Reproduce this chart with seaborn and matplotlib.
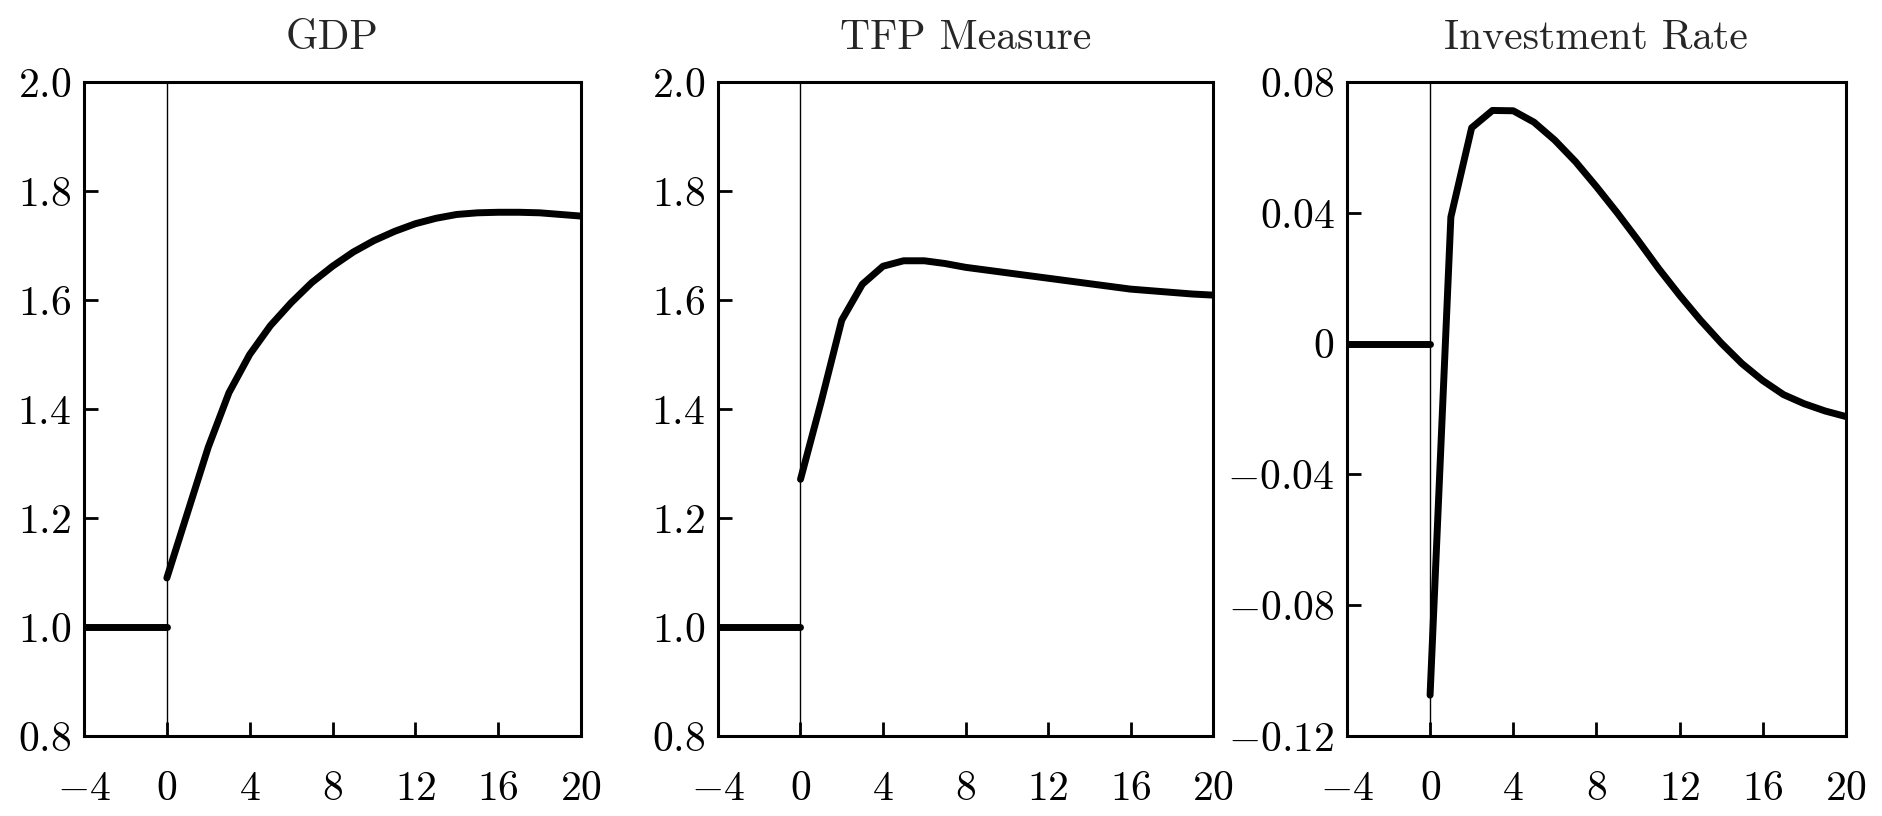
import numpy as np
import pandas as pd
import matplotlib
matplotlib.use("Agg")
import matplotlib.pyplot as plt
import seaborn as sns

sns.set_theme(style="white")
plt.rcParams['font.family'] = ['cmr10', 'DejaVu Serif']
plt.rcParams['mathtext.fontset'] = 'cm'
plt.rcParams['axes.unicode_minus'] = True

# horizon (quarters)
pre_x = [-4, -3, -2, -1, 0]
post_x = list(range(0, 21))

# GDP
gdp_pre = [1.0, 1.0, 1.0, 1.0, 1.0]
gdp_post = [1.09, 1.21, 1.33, 1.43, 1.50, 1.553, 1.595, 1.632, 1.662, 1.688,
            1.709, 1.726, 1.740, 1.750, 1.757, 1.760, 1.761, 1.761, 1.760, 1.757, 1.754]

# TFP measure
tfp_pre = [1.0, 1.0, 1.0, 1.0, 1.0]
tfp_post = [1.271, 1.413, 1.563, 1.629, 1.662, 1.672, 1.672, 1.667, 1.660, 1.655,
            1.650, 1.645, 1.640, 1.635, 1.630, 1.625, 1.620, 1.617, 1.614, 1.611, 1.609]

# Investment rate
inv_pre = [0.0, 0.0, 0.0, 0.0, 0.0]
inv_post = [-0.1075, 0.0387, 0.066, 0.0713, 0.0712, 0.0677, 0.0622, 0.0556, 0.048, 0.040,
            0.0316, 0.0229, 0.0148, 0.0072, 0.0002, -0.0061, -0.0113, -0.0156, -0.0184,
            -0.0206, -0.0223]

titles = ["GDP", "TFP Measure", "Investment Rate"]
xticks = [-4, 0, 4, 8, 12, 16, 20]
xtick_labels = [r"$-4$", "$0$", "$4$", "$8$", "$12$", "$16$", "$20$"]
yticks_level = [0.8, 1.0, 1.2, 1.4, 1.6, 1.8, 2.0]
ylabels_level = ["$0.8$", "$1.0$", "$1.2$", "$1.4$", "$1.6$", "$1.8$", "$2.0$"]
yticks_inv = [-0.12, -0.08, -0.04, 0.0, 0.04, 0.08]
ylabels_inv = [r"$-0.12$", r"$-0.08$", r"$-0.04$", "$0$", "$0.04$", "$0.08$"]

panels = [
    (gdp_pre, gdp_post, yticks_level, ylabels_level, (0.8, 2.0)),
    (tfp_pre, tfp_post, yticks_level, ylabels_level, (0.8, 2.0)),
    (inv_pre, inv_post, yticks_inv, ylabels_inv, (-0.12, 0.08)),
]

fig = plt.figure(figsize=(18.83, 8.16), dpi=100)
lefts = [0.0446, 0.3813, 0.7153]
widths = [0.264, 0.2629, 0.265]
bottom, height = 0.098, 0.8015

for i, (pre, post, yt, yl, ylim) in enumerate(panels):
    ax = fig.add_axes([lefts[i], bottom, widths[i], height])
    df_pre = pd.DataFrame({"t": pre_x, "v": pre})
    df_post = pd.DataFrame({"t": post_x, "v": post})
    ax.axvline(0, color="black", lw=1.0, zorder=1)
    sns.lineplot(data=df_pre, x="t", y="v", ax=ax, color="black", lw=5, zorder=3)
    sns.lineplot(data=df_post, x="t", y="v", ax=ax, color="black", lw=5, zorder=3)
    ax.set_xlim(-4, 20)
    ax.set_ylim(*ylim)
    ax.set_xticks(xticks)
    ax.set_xticklabels(xtick_labels)
    ax.set_yticks(yt)
    ax.set_yticklabels(yl)
    ax.set_xlabel("")
    ax.set_ylabel("")
    ax.set_title(titles[i], fontsize=30, pad=24)
    ax.tick_params(axis="both", direction="in", length=10, width=2,
                   labelsize=30, bottom=True, left=True, top=False, right=False, colors="black")
    ax.tick_params(axis="x", pad=25)
    ax.tick_params(axis="y", pad=9)
    for s in ax.spines.values():
        s.set_color("black")
        s.set_linewidth(2.2)

fig.savefig("out.png", dpi=100)
